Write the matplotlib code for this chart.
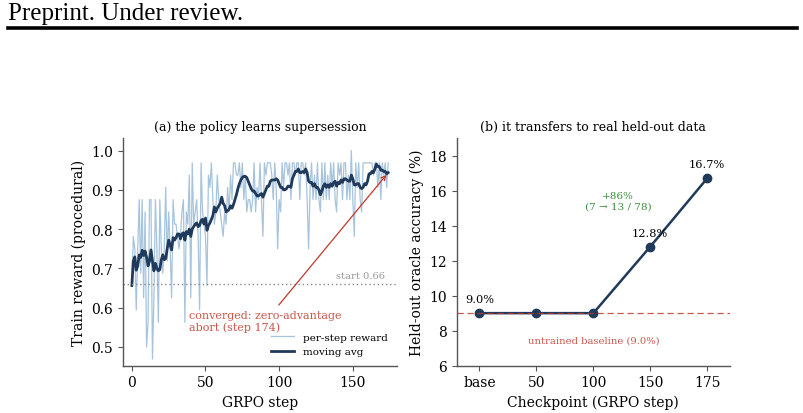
import numpy as np
import pandas as pd
import matplotlib
matplotlib.use("Agg")
import matplotlib.pyplot as plt

# ---------------- data ----------------
# per-step reward, in units of 1/32 (fraction of 32 rollouts correct)
reward_k = [
    21, 25, 24, 19, 24, 28, 22, 28, 20, 27,
    16, 18, 28, 28, 15, 20, 28, 24, 18, 28,
    24, 22, 24, 29, 23, 27, 24, 20, 28, 26,
    26, 25, 24, 25, 27, 28, 18, 27, 26, 30,
    20, 31, 26, 27, 28, 25, 19, 31, 27, 26,
    25, 21, 30, 29, 31, 28, 26, 27, 30, 28,
    27, 26, 25, 27, 26, 29, 27, 30, 28, 31,
    31, 30, 30, 31, 29, 31, 28, 30, 27, 28,
    28, 27, 28, 31, 27, 29, 28, 31, 28, 25,
    31, 30, 31, 31, 31, 30, 28, 31, 29, 24,
    28, 27, 31, 29, 31, 31, 30, 31, 28, 31,
    31, 30, 31, 31, 28, 31, 31, 30, 31, 28,
    24, 29, 31, 28, 30, 28, 31, 28, 27, 31,
    28, 31, 28, 30, 28, 31, 29, 31, 28, 27,
    31, 30, 31, 28, 31, 31, 28, 30, 28, 32,
    28, 25, 31, 29, 31, 28, 27, 31, 31, 31,
    31, 31, 31, 31, 30, 31, 31, 29, 31, 28,
    31, 30, 31, 29, 31,
]
start_reward = 0.66
final_step = 174

checkpoints = ["base", "50", "100", "150", "175"]
heldout_acc = [9.0, 9.0, 9.0, 12.8, 16.7]
baseline_acc = 9.0
labelled_points = [0, 3, 4]

# ---------------- derived ----------------
steps = np.arange(len(reward_k))
reward = np.array(reward_k) / 32.0
mov_avg = pd.Series(reward).rolling(10, min_periods=1).mean().values

NAVY = "#1f3a5a"
LIGHT = "#a8c4dc"
RED = "#c0392b"
GREEN = "#3a8f3a"

plt.rcParams["font.family"] = ["DejaVu Serif"]

fig = plt.figure(figsize=(8.04, 4.14), dpi=100)

# page header
fig.text(8 / 804, 1 - 14 / 414, "Preprint. Under review.", family="Liberation Serif",
         fontsize=18, ha="left", va="center")
fig.add_artist(plt.Line2D([8 / 804, 797 / 804], [1 - 29 / 414, 1 - 29 / 414],
                          color="black", lw=2.6, transform=fig.transFigure))

ax1 = fig.add_axes([123 / 804, 1 - 366.7 / 414, (397 - 123) / 804, (366.7 - 139) / 414])
ax2 = fig.add_axes([456.7 / 804, 1 - 366.7 / 414, (730 - 456.7) / 804, (366.7 - 139) / 414])

for ax in (ax1, ax2):
    ax.spines["top"].set_visible(False)
    ax.spines["right"].set_visible(False)
    for s in ("left", "bottom"):
        ax.spines[s].set_color("#555555")
        ax.spines[s].set_linewidth(1.0)
    ax.tick_params(labelsize=10, color="#555555", length=3.5)

# ---- left panel ----
ax1.plot(steps, reward, color=LIGHT, lw=0.9, label="per-step reward")
ax1.plot(steps, mov_avg, color=NAVY, lw=2.0, label="moving avg")
ax1.axhline(start_reward, color="#888888", lw=1.0, ls=(0, (1, 2)))
ax1.text(172, start_reward + 0.01, f"start {start_reward:.2f}", color="#999999",
         fontsize=7.2, ha="right", va="bottom")
ax1.annotate("converged: zero-advantage\nabort (step %d)" % final_step,
             xy=(steps[-1], mov_avg[-1]), xytext=(39, 0.594),
             ha="left", va="top", fontsize=8, color=RED, alpha=0.85,
             arrowprops=dict(arrowstyle="->", color=RED, lw=0.9))
ax1.set_xlim(-6, 180)
ax1.set_ylim(0.452, 1.032)
ax1.set_xticks([0, 50, 100, 150])
ax1.set_yticks([0.5, 0.6, 0.7, 0.8, 0.9, 1.0])
ax1.set_xlabel("GRPO step", fontsize=10)
ax1.set_ylabel("Train reward (procedural)", fontsize=10)
ax1.set_title("(a) the policy learns supersession", fontsize=9)
ax1.legend(loc="lower right", frameon=False, fontsize=7.5, handlelength=2.2)

# ---- right panel ----
x2 = np.arange(len(checkpoints))
ax2.plot(x2, heldout_acc, color=NAVY, lw=1.8, marker="o", ms=6)
ax2.axhline(baseline_acc, color=RED, lw=0.9, ls=(0, (5, 3)), alpha=0.85)
for i in labelled_points:
    ax2.annotate(f"{heldout_acc[i]:.1f}%", (x2[i], heldout_acc[i]), xytext=(0, 6.5),
                 textcoords="offset points", ha="center", va="bottom", fontsize=8.2)
ax2.text(2, 7.45, f"untrained baseline ({baseline_acc:.1f}%)", color=RED, alpha=0.85,
         fontsize=7.2, ha="center", va="center")
ax2.text(2.43, 15.4, "+86%\n(7 \u2192 13 / 78)", color=GREEN, fontsize=7.5,
         ha="center", va="center", linespacing=1.25)
ax2.set_xlim(-0.4, 4.4)
ax2.set_ylim(6, 19)
ax2.set_xticks(x2)
ax2.set_xticklabels(checkpoints)
ax2.set_yticks([6, 8, 10, 12, 14, 16, 18])
ax2.set_xlabel("Checkpoint (GRPO step)", fontsize=10)
ax2.set_ylabel("Held-out oracle accuracy (%)", fontsize=10)
ax2.set_title("(b) it transfers to real held-out data", fontsize=9)

fig.savefig("out.png", dpi=100)
